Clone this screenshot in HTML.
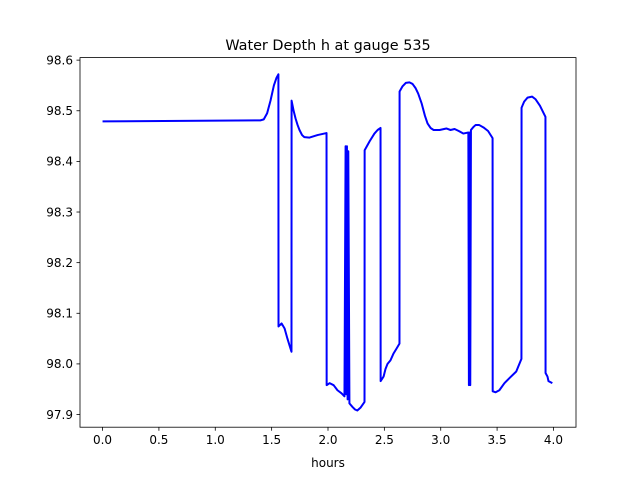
<!DOCTYPE html>
<html><head><meta charset="utf-8"><style>
body{margin:0;background:#fff;}
svg{display:block;font-family:"DejaVu Sans","Liberation Sans",sans-serif;}
</style></head><body>
<svg id="chart" width="640" height="480" viewBox="0 0 640 480">
<rect width="640" height="480" fill="#fff"/>
<text x="328" y="50" font-size="14.4" text-anchor="middle">Water Depth h at gauge 535</text>
<g id="ticks"></g>
<path id="line" fill="none" stroke="#0000ff" stroke-width="2" stroke-linejoin="round"/>
<rect x="80" y="57.6" width="496" height="369.6" fill="none" stroke="#000" stroke-width="0.8"/>
<text x="328" y="467" font-size="12" text-anchor="middle">hours</text>
</svg>
<script>
const hours=[0,1.4,1.43,1.46,1.49,1.52,1.543,1.56,1.561,1.588,1.615,1.64,1.676,1.677,1.695,1.712,1.73,1.747,1.77,1.79,1.836,1.907,1.987,1.988,2.014,2.05,2.084,2.12,2.146,2.156,2.162,2.168,2.174,2.18,2.19,2.217,2.24,2.26,2.29,2.324,2.325,2.37,2.412,2.44,2.466,2.467,2.493,2.51,2.528,2.554,2.58,2.607,2.634,2.635,2.66,2.69,2.723,2.75,2.776,2.8,2.83,2.86,2.883,2.91,2.937,2.99,3.05,3.087,3.123,3.16,3.2,3.245,3.25,3.256,3.262,3.268,3.29,3.31,3.34,3.38,3.42,3.46,3.461,3.487,3.52,3.565,3.61,3.67,3.716,3.717,3.74,3.77,3.81,3.84,3.88,3.92,3.929,3.93,3.947,3.956,3.99];
const depth=[98.479,98.481,98.483,98.495,98.52,98.55,98.565,98.572,98.074,98.08,98.07,98.05,98.024,98.52,98.5,98.485,98.472,98.462,98.452,98.448,98.447,98.452,98.456,97.958,97.962,97.958,97.948,97.942,97.936,98.43,97.94,98.43,97.93,98.42,97.922,97.915,97.91,97.908,97.914,97.925,98.422,98.44,98.455,98.462,98.466,97.966,97.975,97.99,98.0,98.007,98.02,98.03,98.04,98.538,98.548,98.555,98.556,98.553,98.545,98.534,98.515,98.49,98.475,98.466,98.462,98.462,98.465,98.462,98.464,98.46,98.455,98.457,97.958,98.457,97.958,98.462,98.468,98.472,98.472,98.467,98.46,98.446,97.946,97.944,97.948,97.962,97.972,97.985,98.01,98.506,98.518,98.526,98.528,98.523,98.51,98.492,98.488,97.982,97.975,97.966,97.962];
const xTicks=[0,0.5,1,1.5,2,2.5,3,3.5,4];
const xTickLabels=["0.0","0.5","1.0","1.5","2.0","2.5","3.0","3.5","4.0"];
const yTicks=[97.9,98.0,98.1,98.2,98.3,98.4,98.5,98.6];
const yTickLabels=["97.9","98.0","98.1","98.2","98.3","98.4","98.5","98.6"];
const X0=80,X1=576,Y0=427.2,Y1=57.6;
const xmin=-0.2,xmax=4.2,ymin=97.875,ymax=98.605;
const sx=v=>X0+(v-xmin)/(xmax-xmin)*(X1-X0);
const sy=v=>Y0-(v-ymin)/(ymax-ymin)*(Y0-Y1);
const NS="http://www.w3.org/2000/svg";
let d="";
for(let i=0;i<hours.length;i++){d+=(i?"L":"M")+sx(hours[i]).toFixed(2)+","+sy(depth[i]).toFixed(2);}
document.getElementById("line").setAttribute("d",d);
const g=document.getElementById("ticks");
xTicks.forEach((t,i)=>{
  const x=sx(t);
  const l=document.createElementNS(NS,"line");
  l.setAttribute("x1",x);l.setAttribute("x2",x);l.setAttribute("y1",Y0);l.setAttribute("y2",Y0+3.5);
  l.setAttribute("stroke","#000");l.setAttribute("stroke-width","0.8");
  
  
  g.appendChild(l);
  const tx=document.createElementNS(NS,"text");
  tx.setAttribute("x",x);tx.setAttribute("y",Y0+17);tx.setAttribute("font-size","12");tx.setAttribute("text-anchor","middle");
  tx.textContent=xTickLabels[i];
  
  
  g.appendChild(tx);
});
yTicks.forEach((t,i)=>{
  const y=sy(t);
  const l=document.createElementNS(NS,"line");
  l.setAttribute("x1",X0-3.5);l.setAttribute("x2",X0);l.setAttribute("y1",y);l.setAttribute("y2",y);
  l.setAttribute("stroke","#000");l.setAttribute("stroke-width","0.8");
  
  
  g.appendChild(l);
  const tx=document.createElementNS(NS,"text");
  tx.setAttribute("x",X0-7);tx.setAttribute("y",y+4.3);tx.setAttribute("font-size","12");tx.setAttribute("text-anchor","end");
  tx.textContent=yTickLabels[i];
  
  
  g.appendChild(tx);
});
</script>
</body></html>
